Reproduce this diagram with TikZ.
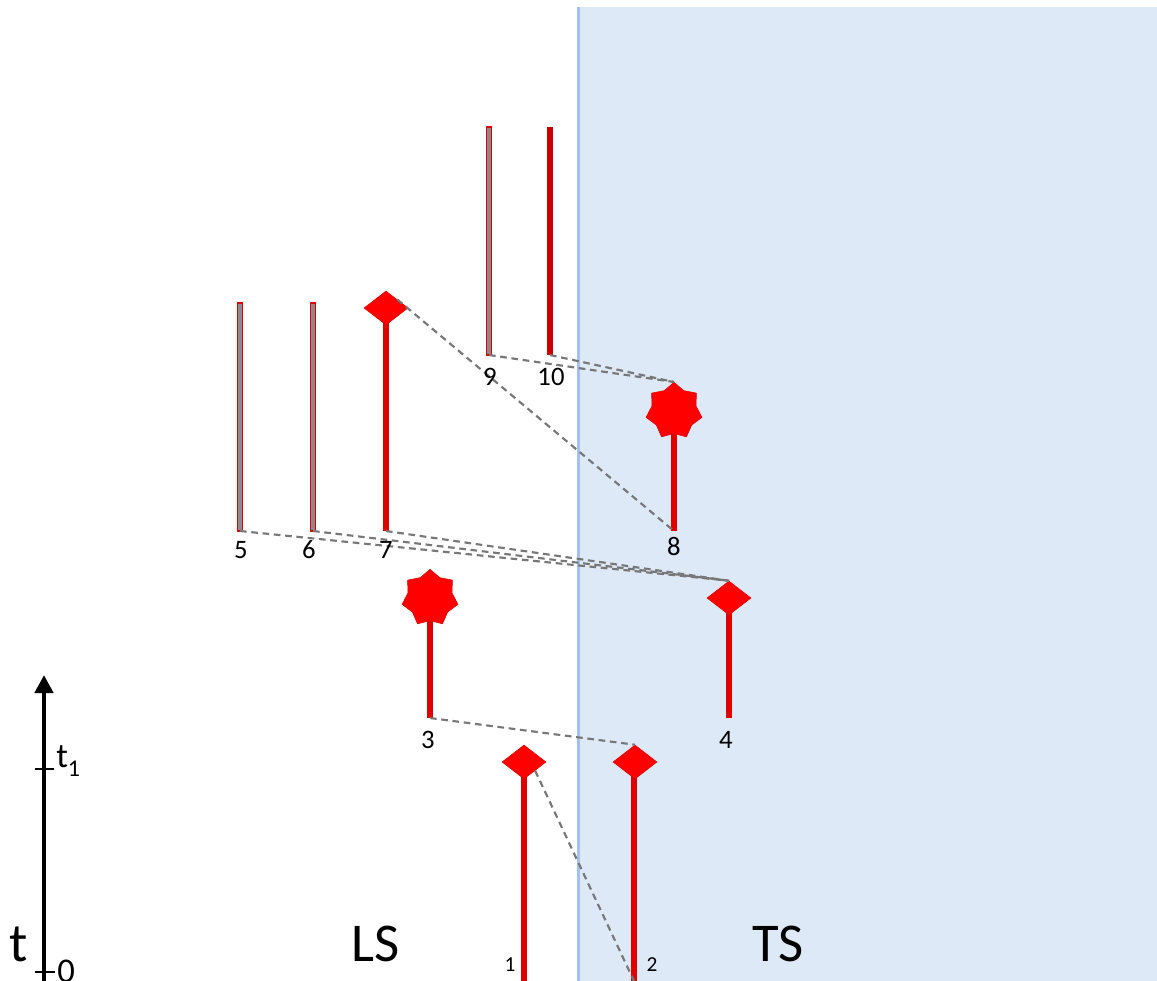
\documentclass[tikz,border=0pt]{standalone}
\usepackage{fontspec}
\setmainfont{Carlito}
\usetikzlibrary{shapes.geometric,arrows.meta}
\definecolor{bluebg}{HTML}{DEE9F7}
\definecolor{blueedge}{HTML}{A4C0EC}
\definecolor{redline}{HTML}{E00000}
\definecolor{redfill}{HTML}{FF0000}
\definecolor{dashgray}{HTML}{777777}
\definecolor{coregray}{HTML}{8A8A8A}
\tikzset{
  world/.style={line width=4.3pt, draw=redline},
  ghostbar/.style={fill=coregray, draw=redline, line width=0.9pt},
  dia/.style={diamond, fill=redfill, draw=redline, line width=0.4pt, inner sep=0pt, minimum width=33pt, minimum height=25.5pt},
  starshape/.style={star, star points=7, star point ratio=1.27, fill=redfill, draw=redline, line width=0.4pt, inner sep=0pt, minimum size=43pt},
  link/.style={draw=dashgray, line width=1.6pt, dash pattern=on 5pt off 3.5pt},
  num/.style={font=\fontsize{20}{20}\selectfont, inner sep=0pt},
  numlow/.style={font=\fontsize{16}{16}\selectfont, inner sep=0pt},
  region/.style={font=\fontsize{41}{41}\selectfont, inner sep=0pt},
  axislabel/.style={font=\fontsize{26}{26}\selectfont, inner sep=0pt},
}
\begin{document}
\begin{tikzpicture}[x=0.75pt, y=-0.75pt]
\useasboundingbox (0,0) rectangle (1157,981);
% background regions
\fill[white] (0,0) rectangle (1157,981);
\fill[bluebg] (578,7) rectangle (1157,981);
\draw[blueedge, line width=2.6pt] (578.5,7) -- (578.5,981);

% time axis
\coordinate (axb) at (44,981);
\coordinate (axt) at (44,675);
\draw[line width=3.5pt, -{Triangle[length=13.5pt, width=13.5pt]}] (axb) -- (axt);
\coordinate (tk1a) at (35,769); \coordinate (tk1b) at (54,769);
\coordinate (tk0a) at (35,972); \coordinate (tk0b) at (55,972);
\draw[line width=0.8pt] (tk1a) -- (tk1b);
\draw[line width=0.8pt] (tk0a) -- (tk0b);
\node[axislabel, anchor=base west] (lt1) at (56,767) {t\raisebox{-7pt}{\fontsize{18}{18}\selectfont 1}};
\node[axislabel, anchor=north west] (l0) at (57,960) {0};
\node[region] (lt) at (19,944) {t};
\node[region] (lLS) at (376,944) {LS};
\node[region] (lTS) at (778,944) {TS};

% ---- worldline end points ----
\coordinate (b1) at (524,981);
\coordinate (b2) at (634,981);
\coordinate (b3) at (430,718);
\coordinate (b4) at (729,718);
\coordinate (t5) at (240,303); \coordinate (b5) at (240,531);
\coordinate (t6) at (313,303); \coordinate (b6) at (313,531);
\coordinate (b7) at (386,531);
\coordinate (b8) at (674,531);
\coordinate (t9) at (489,127); \coordinate (b9) at (489,355);
\coordinate (t10) at (550,127); \coordinate (b10) at (550,355);

\draw[world] (b1) -- (524,770);
\draw[world] (b2) -- (634,770);
\draw[world] (b3) -- (430,610);
\draw[world] (b4) -- (729,605);
\draw[world] (b7) -- (386,315);
\draw[world] (b8) -- (674,425);
\draw[world, draw=red!80!black] (b10) -- (t10);
\draw[ghostbar] ([xshift=-2.1pt]b5) rectangle ([xshift=2.1pt]t5);
\draw[ghostbar] ([xshift=-2.1pt]b6) rectangle ([xshift=2.1pt]t6);
\draw[ghostbar] ([xshift=-2.1pt]b9) rectangle ([xshift=2.1pt]t9);

% markers
\node[dia] (d1) at (524,762) {};
\node[dia] (d2) at (635,762) {};
\node[starshape] (s3) at (430,598) {};
\node[dia] (d4) at (729,598) {};
\node[dia] (d7) at (386,308) {};
\node[starshape] (s8) at (674,411) {};

% dashed links
\draw[link] (d1.south east) -- (b2);
\draw[link] (b3) -- (d2.north);
\draw[link] (b5) -- (d4.north);
\draw[link] (b6) -- (d4.north);
\draw[link] (b7) -- (d4.north);
\draw[link] (d7.north east) -- (b8);
\draw[link] (b9) -- (s8.north);
\draw[link] (b10) -- (s8.north);

% labels
\node[numlow] (n1) at (510,965) {1};
\node[numlow] (n2) at (652,965) {2};
\node[num] (n3) at (428,740) {3};
\node[num] (n4) at (726,740) {4};
\node[num] (n5) at (241,550) {5};
\node[num] (n6) at (309,550) {6};
\node[num] (n7) at (386,550) {7};
\node[num] (n8) at (674,546) {8};
\node[num] (n9) at (490,377) {9};
\node[num] (n10) at (551,377) {10};
\end{tikzpicture}
\end{document}
